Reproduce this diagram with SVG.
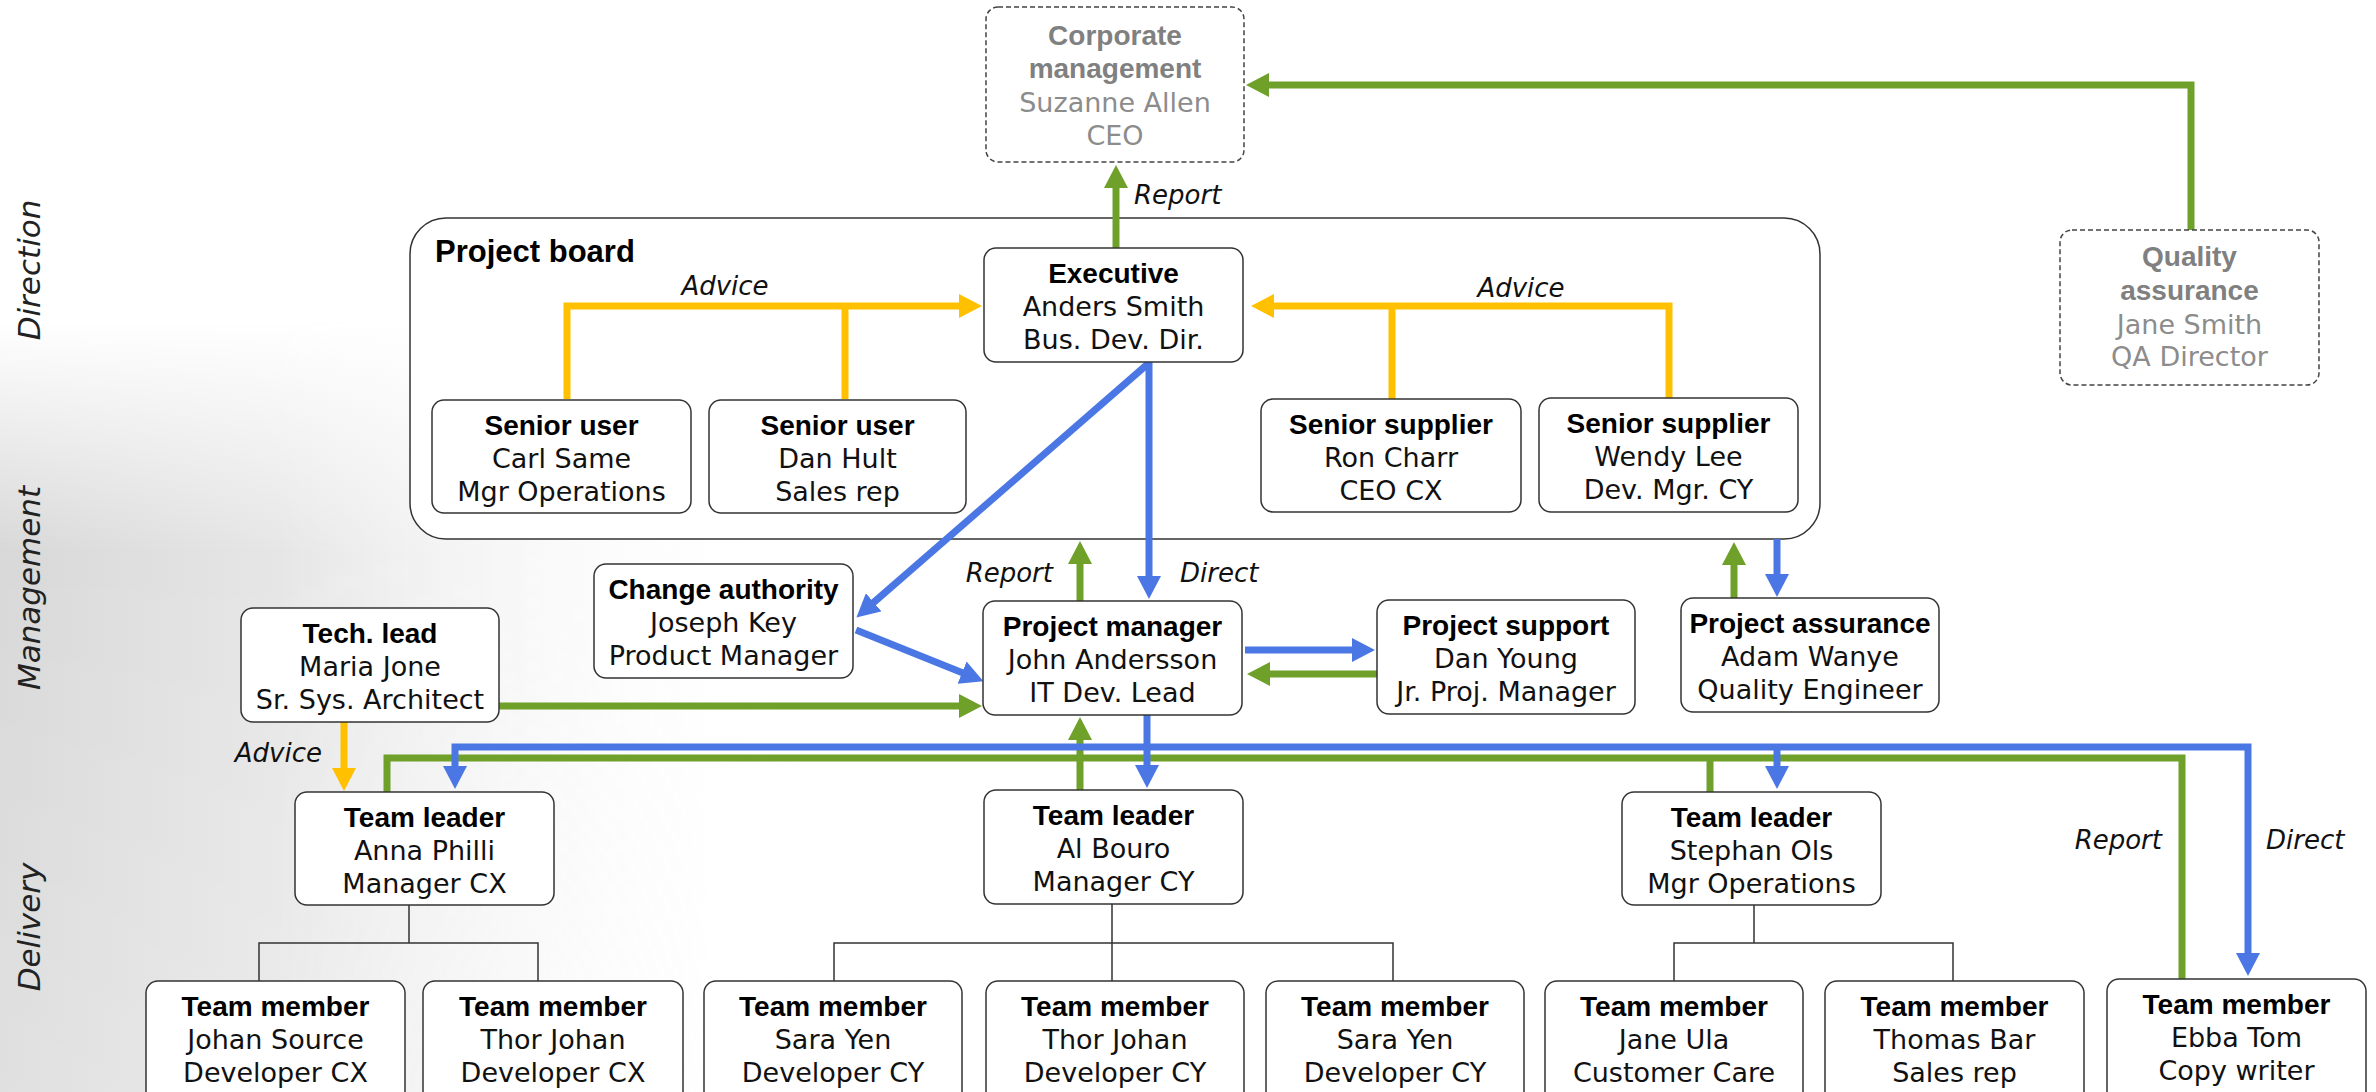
<svg xmlns="http://www.w3.org/2000/svg" width="2376" height="1092" viewBox="0 0 2376 1092">
<style>
.box{fill:#fff;stroke:#333;stroke-width:1.5}
.dash{fill:#fff;stroke:#444;stroke-width:1.5;stroke-dasharray:5 3}
.t{font-family:"Liberation Sans",Arial,sans-serif;font-weight:bold;font-size:28px;fill:#000;text-anchor:middle}
.b{font-family:"DejaVu Sans","Liberation Sans",sans-serif;font-size:27px;fill:#111;text-anchor:middle}
.gt{fill:#808080}
.gb{fill:#8c8c8c}
.lbl{font-family:"DejaVu Sans","Liberation Sans",sans-serif;font-style:italic;font-size:26px;fill:#111}
.side{font-family:"DejaVu Sans","Liberation Sans",sans-serif;font-style:italic;font-size:31px;fill:#222;text-anchor:middle}
.y{fill:none;stroke:#FFC000;stroke-width:7}
.g{fill:none;stroke:#6FA12A;stroke-width:7}
.u{fill:none;stroke:#4B77E5;stroke-width:7}
.tree{fill:none;stroke:#333;stroke-width:1.5}
</style>
<defs>
<marker id="ay" markerUnits="userSpaceOnUse" markerWidth="24" markerHeight="24" refX="1" refY="12" orient="auto"><path d="M0,0 L23,12 L0,24 z" fill="#FFC000"/></marker>
<marker id="ag" markerUnits="userSpaceOnUse" markerWidth="24" markerHeight="24" refX="1" refY="12" orient="auto"><path d="M0,0 L23,12 L0,24 z" fill="#6FA12A"/></marker>
<marker id="ab" markerUnits="userSpaceOnUse" markerWidth="24" markerHeight="24" refX="1" refY="12" orient="auto-start-reverse"><path d="M0,0 L23,12 L0,24 z" fill="#4B77E5"/></marker>
<linearGradient id="bgH" x1="0" y1="0" x2="1" y2="0">
<stop offset="0" stop-color="#d8d8d8"/>
<stop offset="0.35" stop-color="#e6e6e6"/>
<stop offset="1" stop-color="#ffffff" stop-opacity="0"/>
</linearGradient>
<linearGradient id="bgV" x1="0" y1="0" x2="0" y2="1">
<stop offset="0" stop-color="#fff" stop-opacity="0"/>
<stop offset="0.3" stop-color="#fff" stop-opacity="1"/>
<stop offset="1" stop-color="#fff" stop-opacity="0.8"/>
</linearGradient>
<mask id="bgM"><rect x="0" y="320" width="800" height="772" fill="url(#bgV)"/></mask>
</defs>
<rect x="0" y="0" width="2376" height="1092" fill="#fff"/>
<g id="background"><rect x="0" y="320" width="800" height="772" fill="url(#bgH)" mask="url(#bgM)"/></g>

<g id="side-labels">
<text class="side" transform="translate(40,270) rotate(-90)">Direction</text>
<text class="side" transform="translate(40,588) rotate(-90)">Management</text>
<text class="side" transform="translate(40,927) rotate(-90)">Delivery</text>
</g>

<g id="project-board">
<rect x="410" y="218" width="1410" height="321" rx="36" fill="#fff" stroke="#333" stroke-width="1.5"/>
<text x="435" y="262" font-family="Liberation Sans,Arial,sans-serif" font-weight="bold" font-size="31" fill="#000">Project board</text>
</g>

<g id="connectors">
<path class="g" d="M2191,230 V85 H1268" marker-end="url(#ag)"/>
<path class="g" d="M1116,248 V187" marker-end="url(#ag)"/>
<path class="y" d="M567,399 V306 H960" marker-end="url(#ay)"/>
<path class="y" d="M845,399 V306"/>
<path class="y" d="M1669,398 V306 H1273" marker-end="url(#ay)"/>
<path class="y" d="M1392,399 V306"/>
<path class="u" d="M1149,362 V577" marker-end="url(#ab)"/>
<path class="u" d="M1150,362 L873,603" marker-end="url(#ab)"/>
<path class="u" d="M856,630 L963,673" marker-end="url(#ab)"/>
<path class="g" d="M1080,601 V563" marker-end="url(#ag)"/>
<path class="u" d="M1245,650 H1353" marker-end="url(#ab)"/>
<path class="g" d="M1377,674 H1269" marker-end="url(#ag)"/>
<path class="g" d="M499,706 H960" marker-end="url(#ag)"/>
<path class="y" d="M344,722 V769" marker-end="url(#ay)"/>
<path class="g" d="M1734,598 V564" marker-end="url(#ag)"/>
<path class="u" d="M1777,539 V575" marker-end="url(#ab)"/>
<path class="g" d="M387,792 V758 H2182 V979"/>
<path class="g" d="M1710,758 V792"/>
<path class="g" d="M1080,790 V739" marker-end="url(#ag)"/>
<path class="u" d="M455,767 V747 H2248 V954" marker-start="url(#ab)" marker-end="url(#ab)"/>
<path class="u" d="M1147,715 V766" marker-end="url(#ab)"/>
<path class="u" d="M1777,747 V767" marker-end="url(#ab)"/>
<path class="tree" d="M409,905 V943 M259,981 V943 H538 V981"/>
<path class="tree" d="M1112,904 V981 M834,981 V943 H1393 V981"/>
<path class="tree" d="M1754,905 V943 M1674,981 V943 H1953 V981"/>
<text class="lbl" x="1134" y="204">Report</text>
<text class="lbl" x="725" y="295" text-anchor="middle">Advice</text>
<text class="lbl" x="1521" y="297" text-anchor="middle">Advice</text>
<text class="lbl" x="1053" y="582" text-anchor="end">Report</text>
<text class="lbl" x="1180" y="582">Direct</text>
<text class="lbl" x="322" y="762" text-anchor="end">Advice</text>
<text class="lbl" x="2162" y="849" text-anchor="end">Report</text>
<text class="lbl" x="2266" y="849">Direct</text>
</g>

<g id="corporate-management">
<rect class="dash" x="986" y="7" width="258" height="155" rx="12"/>
<text class="t gt" x="1115" y="45">Corporate</text>
<text class="t gt" x="1115" y="78">management</text>
<text class="b gb" x="1115" y="112">Suzanne Allen</text>
<text class="b gb" x="1115" y="145">CEO</text>
</g>
<g id="quality-assurance">
<rect class="dash" x="2060" y="230" width="259" height="155" rx="12"/>
<text class="t gt" x="2189.5" y="266">Quality</text>
<text class="t gt" x="2189.5" y="300">assurance</text>
<text class="b gb" x="2189.5" y="334">Jane Smith</text>
<text class="b gb" x="2189.5" y="366">QA Director</text>
</g>
<g id="executive">
<rect class="box" x="984" y="248" width="259" height="114" rx="12"/>
<text class="t" x="1113.5" y="283">Executive</text>
<text class="b" x="1113.5" y="316">Anders Smith</text>
<text class="b" x="1113.5" y="349">Bus. Dev. Dir.</text>
</g>
<g id="senior-user-1">
<rect class="box" x="432" y="400" width="259" height="113" rx="12"/>
<text class="t" x="561.5" y="435">Senior user</text>
<text class="b" x="561.5" y="468">Carl Same</text>
<text class="b" x="561.5" y="501">Mgr Operations</text>
</g>
<g id="senior-user-2">
<rect class="box" x="709" y="400" width="257" height="113" rx="12"/>
<text class="t" x="837.5" y="435">Senior user</text>
<text class="b" x="837.5" y="468">Dan Hult</text>
<text class="b" x="837.5" y="501">Sales rep</text>
</g>
<g id="senior-supplier-1">
<rect class="box" x="1261" y="399" width="260" height="113" rx="12"/>
<text class="t" x="1391" y="434">Senior supplier</text>
<text class="b" x="1391" y="467">Ron Charr</text>
<text class="b" x="1391" y="500">CEO CX</text>
</g>
<g id="senior-supplier-2">
<rect class="box" x="1539" y="398" width="259" height="114" rx="12"/>
<text class="t" x="1668.5" y="433">Senior supplier</text>
<text class="b" x="1668.5" y="466">Wendy Lee</text>
<text class="b" x="1668.5" y="499">Dev. Mgr. CY</text>
</g>
<g id="change-authority">
<rect class="box" x="594" y="564" width="259" height="114" rx="12"/>
<text class="t" x="723.5" y="599">Change authority</text>
<text class="b" x="723.5" y="632">Joseph Key</text>
<text class="b" x="723.5" y="665">Product Manager</text>
</g>
<g id="tech-lead">
<rect class="box" x="241" y="608" width="258" height="114" rx="12"/>
<text class="t" x="370" y="643">Tech. lead</text>
<text class="b" x="370" y="676">Maria Jone</text>
<text class="b" x="370" y="709">Sr. Sys. Architect</text>
</g>
<g id="project-manager">
<rect class="box" x="983" y="601" width="259" height="114" rx="12"/>
<text class="t" x="1112.5" y="636">Project manager</text>
<text class="b" x="1112.5" y="669">John Andersson</text>
<text class="b" x="1112.5" y="702">IT Dev. Lead</text>
</g>
<g id="project-support">
<rect class="box" x="1377" y="600" width="258" height="114" rx="12"/>
<text class="t" x="1506" y="635">Project support</text>
<text class="b" x="1506" y="668">Dan Young</text>
<text class="b" x="1506" y="701">Jr. Proj. Manager</text>
</g>
<g id="project-assurance">
<rect class="box" x="1681" y="598" width="258" height="114" rx="12"/>
<text class="t" x="1810" y="633">Project assurance</text>
<text class="b" x="1810" y="666">Adam Wanye</text>
<text class="b" x="1810" y="699">Quality Engineer</text>
</g>
<g id="team-leader-anna">
<rect class="box" x="295" y="792" width="259" height="113" rx="12"/>
<text class="t" x="424.5" y="827">Team leader</text>
<text class="b" x="424.5" y="860">Anna Philli</text>
<text class="b" x="424.5" y="893">Manager CX</text>
</g>
<g id="team-leader-al">
<rect class="box" x="984" y="790" width="259" height="114" rx="12"/>
<text class="t" x="1113.5" y="825">Team leader</text>
<text class="b" x="1113.5" y="858">Al Bouro</text>
<text class="b" x="1113.5" y="891">Manager CY</text>
</g>
<g id="team-leader-stephan">
<rect class="box" x="1622" y="792" width="259" height="113" rx="12"/>
<text class="t" x="1751.5" y="827">Team leader</text>
<text class="b" x="1751.5" y="860">Stephan Ols</text>
<text class="b" x="1751.5" y="893">Mgr Operations</text>
</g>
<g id="member-johan-source">
<rect class="box" x="146" y="981" width="259" height="125" rx="12"/>
<text class="t" x="275.5" y="1016">Team member</text>
<text class="b" x="275.5" y="1049">Johan Source</text>
<text class="b" x="275.5" y="1082">Developer CX</text>
</g>
<g id="member-thor-johan-cx">
<rect class="box" x="423" y="981" width="260" height="125" rx="12"/>
<text class="t" x="553" y="1016">Team member</text>
<text class="b" x="553" y="1049">Thor Johan</text>
<text class="b" x="553" y="1082">Developer CX</text>
</g>
<g id="member-sara-yen-1">
<rect class="box" x="704" y="981" width="258" height="125" rx="12"/>
<text class="t" x="833" y="1016">Team member</text>
<text class="b" x="833" y="1049">Sara Yen</text>
<text class="b" x="833" y="1082">Developer CY</text>
</g>
<g id="member-thor-johan-cy">
<rect class="box" x="986" y="981" width="258" height="125" rx="12"/>
<text class="t" x="1115" y="1016">Team member</text>
<text class="b" x="1115" y="1049">Thor Johan</text>
<text class="b" x="1115" y="1082">Developer CY</text>
</g>
<g id="member-sara-yen-2">
<rect class="box" x="1266" y="981" width="258" height="125" rx="12"/>
<text class="t" x="1395" y="1016">Team member</text>
<text class="b" x="1395" y="1049">Sara Yen</text>
<text class="b" x="1395" y="1082">Developer CY</text>
</g>
<g id="member-jane-ula">
<rect class="box" x="1545" y="981" width="258" height="125" rx="12"/>
<text class="t" x="1674" y="1016">Team member</text>
<text class="b" x="1674" y="1049">Jane Ula</text>
<text class="b" x="1674" y="1082">Customer Care</text>
</g>
<g id="member-thomas-bar">
<rect class="box" x="1825" y="981" width="259" height="125" rx="12"/>
<text class="t" x="1954.5" y="1016">Team member</text>
<text class="b" x="1954.5" y="1049">Thomas Bar</text>
<text class="b" x="1954.5" y="1082">Sales rep</text>
</g>
<g id="member-ebba-tom">
<rect class="box" x="2107" y="979" width="259" height="127" rx="12"/>
<text class="t" x="2236.5" y="1014">Team member</text>
<text class="b" x="2236.5" y="1047">Ebba Tom</text>
<text class="b" x="2236.5" y="1080">Copy writer</text>
</g>
</svg>
